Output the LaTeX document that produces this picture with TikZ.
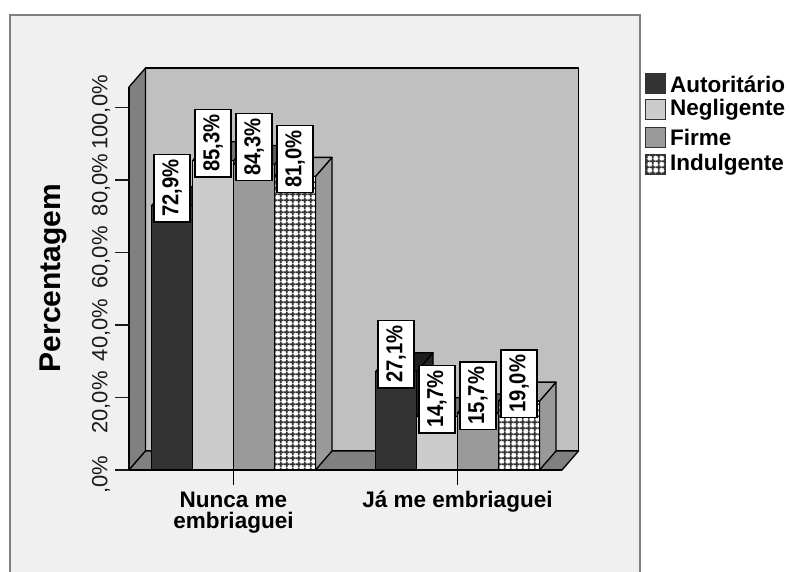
\documentclass[tikz,border=0pt]{standalone}
\usepackage{fontspec}
\setmainfont{Liberation Sans}
\usetikzlibrary{patterns}
\definecolor{panel}{HTML}{F0F0F0}
\definecolor{framec}{HTML}{808080}
\definecolor{wallc}{HTML}{C0C0C0}
\definecolor{sidec}{HTML}{808080}
\definecolor{tickc}{HTML}{1A1A1A}
\definecolor{autc}{HTML}{333333}
\definecolor{negc}{HTML}{CCCCCC}
\definecolor{firc}{HTML}{9A9A9A}
\definecolor{chkc}{HTML}{333333}
\pgfdeclarepatternformonly{checks}{\pgfqpoint{0pt}{0pt}}{\pgfqpoint{6.2pt}{6.2pt}}{\pgfqpoint{6.2pt}{6.2pt}}{%
  \pgfsetlinewidth{2pt}%
  \pgfpathmoveto{\pgfqpoint{0pt}{3.1pt}}\pgfpathlineto{\pgfqpoint{6.2pt}{3.1pt}}%
  \pgfpathmoveto{\pgfqpoint{3.1pt}{0pt}}\pgfpathlineto{\pgfqpoint{3.1pt}{6.2pt}}%
  \pgfusepath{stroke}}
\tikzset{
  face/.style={draw=black, line width=1.3pt, line join=round},
  aut/.style={fill=autc},
  neg/.style={fill=negc},
  fir/.style={fill=firc},
  ind/.style={fill=white, postaction={pattern=checks, pattern color=chkc}},
  vlabel/.style={draw=black, line width=1.3pt, fill=white, rotate=90, inner xsep=5pt, inner ysep=0pt,
    minimum height=36pt, font=\fontsize{23}{23}\selectfont\bfseries},
  ticklab/.style={rotate=90, inner sep=0pt, text=tickc, font=\fontsize{22}{22}\selectfont},
  ytitle/.style={rotate=90, inner sep=0pt, font=\fontsize{30}{30}\selectfont\bfseries},
  catlab/.style={align=center, anchor=north, inner sep=0pt, font=\fontsize{22.5}{21.5}\selectfont\bfseries},
  legbox/.style={draw=black!80, line width=1pt, minimum size=20pt, inner sep=0pt},
  legtext/.style={anchor=west, inner sep=0pt, font=\fontsize{22.5}{22.5}\selectfont\bfseries}
}
% #1 left x, #2 value, #3 label, #4 front style, #5 top colour, #6 side colour, #7 label name
\newcommand{\colbar}[7]{%
  \pgfmathsetmacro{\ytop}{470-3.625*#2}%
  \draw[face, fill=#6] (#1+41,470) -- (#1+57.5,451) -- (#1+57.5,\ytop-19) -- (#1+41,\ytop) -- cycle;%
  \draw[face, fill=#5] (#1,\ytop) -- (#1+16.5,\ytop-19) -- (#1+57.5,\ytop-19) -- (#1+41,\ytop) -- cycle;%
  \fill[#4] (#1,470) rectangle (#1+41,\ytop);%
  \draw[face] (#1,470) rectangle (#1+41,\ytop);%
  \node[vlabel] (#7) at (#1+20.5,\ytop-17.5) {\scalebox{0.88}[1]{#3}};%
}
\begin{document}
\begin{tikzpicture}[x=1pt, y=-1pt]
\useasboundingbox[fill=white] (0,0) rectangle (790,572);
\draw[draw=framec, line width=2pt, fill=panel] (10,15) rectangle (640,600);

% walls and floor
\draw[face, fill=wallc] (145.5,68) rectangle (578.5,451);
\draw[face, fill=sidec] (129,470) -- (129,87) -- (145.5,68) -- (145.5,451) -- cycle;
\draw[face, fill=sidec] (129,470) -- (562,470) -- (578.5,451) -- (145.5,451) -- cycle;

% Nunca me embriaguei
\colbar{151.5}{72.9}{72,9\%}{aut}{black!88}{black!85}{v11}
\colbar{192.5}{85.3}{85,3\%}{neg}{black!55}{black!45}{v12}
\colbar{233.5}{84.3}{84,3\%}{fir}{black!65}{black!57}{v13}
\colbar{274.5}{81.0}{81,0\%}{ind}{black!35}{black!40}{v14}
% Ja me embriaguei
\colbar{375.5}{27.1}{27,1\%}{aut}{black!88}{black!85}{v21}
\colbar{416.5}{14.7}{14,7\%}{neg}{black!55}{black!45}{v22}
\colbar{457.5}{15.7}{15,7\%}{fir}{black!65}{black!57}{v23}
\colbar{498.5}{19.0}{19,0\%}{ind}{black!35}{black!40}{v24}

% axes
\draw[line width=1.6pt] (115,470) -- (562,470);
\draw[line width=1.6pt] (129,470) -- (129,87);
\foreach \v/\t in {0/{,0\%}, 20/{20,0\%}, 40/{40,0\%}, 60/{60,0\%}, 80/{80,0\%}, 100/{100,0\%}} {
  \draw[line width=1.6pt, tickc] (115,470-3.625*\v) -- (129,470-3.625*\v);
  \node[ticklab] (tl\v) at (101,470-3.625*\v+5) {\t};
}
\draw[line width=1.6pt] (233.5,470) -- (233.5,485);
\draw[line width=1.6pt] (457.5,470) -- (457.5,485);

\node[ytitle] (ytitle) at (53,278) {Percentagem};
\node[catlab] (cat1) at (233.5,491.5) {Nunca me\\embriaguei};
\node[catlab] (cat2) at (457.5,491) {Já me embriaguei};

% legend
\node[legbox, fill=autc] (kaut) at (655,84) {};
\node[legbox, fill=negc] (kneg) at (655,110) {};
\node[legbox, fill=firc] (kfir) at (655,137.5) {};
\node[legbox, ind] (kind) at (655,165) {};
\node[legtext] (taut) at (670,84) {Autoritário};
\node[legtext] (tneg) at (670,110) {Negligente};
\node[legtext] (tfir) at (670,137.5) {Firme};
\node[legtext] (tind) at (670,165) {Indulgente};
\end{tikzpicture}
\end{document}
